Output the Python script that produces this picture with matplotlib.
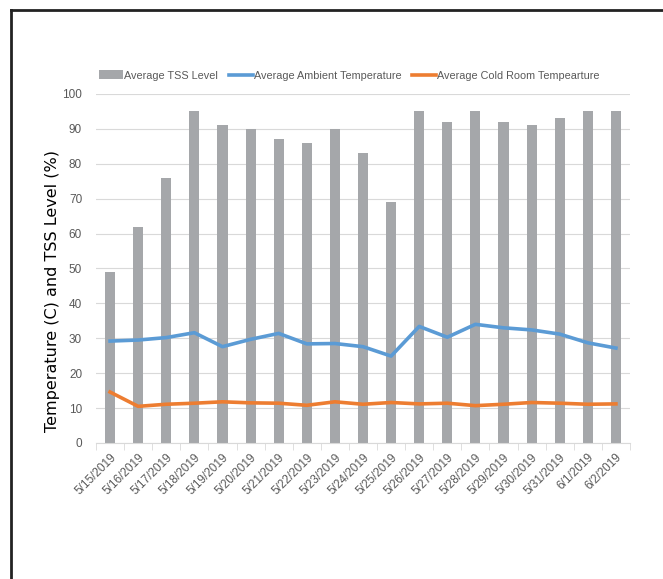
import matplotlib
matplotlib.use('Agg')
import matplotlib.pyplot as plt
import numpy as np
from matplotlib.lines import Line2D

dates = ['5/15/2019', '5/16/2019', '5/17/2019', '5/18/2019', '5/19/2019', '5/20/2019',
         '5/21/2019', '5/22/2019', '5/23/2019', '5/24/2019', '5/25/2019', '5/26/2019',
         '5/27/2019', '5/28/2019', '5/29/2019', '5/30/2019', '5/31/2019', '6/1/2019', '6/2/2019']
tss = [49, 62, 76, 95, 91, 90, 87, 86, 90, 83, 69, 95, 92, 95, 92, 91, 93, 95, 95]
ambient = [29.2, 29.5, 30.2, 31.6, 27.6, 29.7, 31.4, 28.4, 28.5, 27.6, 24.9, 33.4,
           30.3, 34.0, 33.0, 32.4, 31.2, 28.7, 27.2]
cold = [14.6, 10.5, 11.1, 11.4, 11.8, 11.5, 11.4, 10.8, 11.8, 11.1, 11.6, 11.2,
        11.4, 10.7, 11.1, 11.6, 11.4, 11.1, 11.2]

font_small = ['Liberation Sans', 'DejaVu Sans']
grey_txt = '#595959'

fig = plt.figure(figsize=(6.63, 5.79), dpi=100)
ax = fig.add_axes([0.1448, 0.2349, 0.8054, 0.6028])

x = np.arange(len(dates))
b = ax.bar(x, tss, width=0.36, color='#A5A7AA', label='Average TSS Level', zorder=2)
l1, = ax.plot(x, ambient, color='#5B9BD5', lw=2.6, label='Average Ambient Temperature', zorder=3)
l2, = ax.plot(x, cold, color='#ED7D31', lw=2.6, label='Average Cold Room Tempearture', zorder=3)

ax.set_xlim(-0.5, len(dates) - 0.5)
ax.set_ylim(0, 100)
ax.set_yticks(np.arange(0, 101, 10))
ax.yaxis.grid(True, color='#D9D9D9', lw=0.8, zorder=0)
ax.set_axisbelow(True)
for s in ['top', 'right', 'left']:
    ax.spines[s].set_visible(False)
ax.spines['bottom'].set_color('#D9D9D9')
ax.tick_params(axis='y', length=0, pad=10, labelcolor=grey_txt)
ax.set_yticklabels([str(v) for v in range(0, 101, 10)], family=font_small, fontsize=8.5)

ax.set_xticks(x)
ax.set_xticklabels(dates, rotation=45, ha='right', rotation_mode='anchor',
                   family=font_small, fontsize=8.5, color=grey_txt)
ax.tick_params(axis='x', length=0, pad=6)
ax.set_xticks(np.arange(-0.5, len(dates), 1), minor=True)
ax.tick_params(axis='x', which='minor', length=5, color='#D9D9D9')

ax.set_ylabel('Temperature (C) and TSS Level (%)', fontsize=11.5, family='DejaVu Sans',
              color='black')
ax.yaxis.set_label_coords(-0.068, 0.435)

leg = ax.legend(handles=[b, l1, l2], loc='lower center', bbox_to_anchor=(0.475, 1.01), ncol=3,
                frameon=False, prop={'family': font_small, 'size': 7.8}, handlelength=2.2,
                handleheight=0.9, handletextpad=0.1, columnspacing=1.0)
for t in leg.get_texts():
    t.set_color(grey_txt)

# outer black frame (top and left only)
fig.add_artist(Line2D([11 / 663, 1.01], [1 - 10 / 579, 1 - 10 / 579],
                      transform=fig.transFigure, color='#222222', lw=2))
fig.add_artist(Line2D([11 / 663, 11 / 663], [1 - 10 / 579, -0.01],
                      transform=fig.transFigure, color='#222222', lw=2))

fig.savefig('out.png', dpi=100)
